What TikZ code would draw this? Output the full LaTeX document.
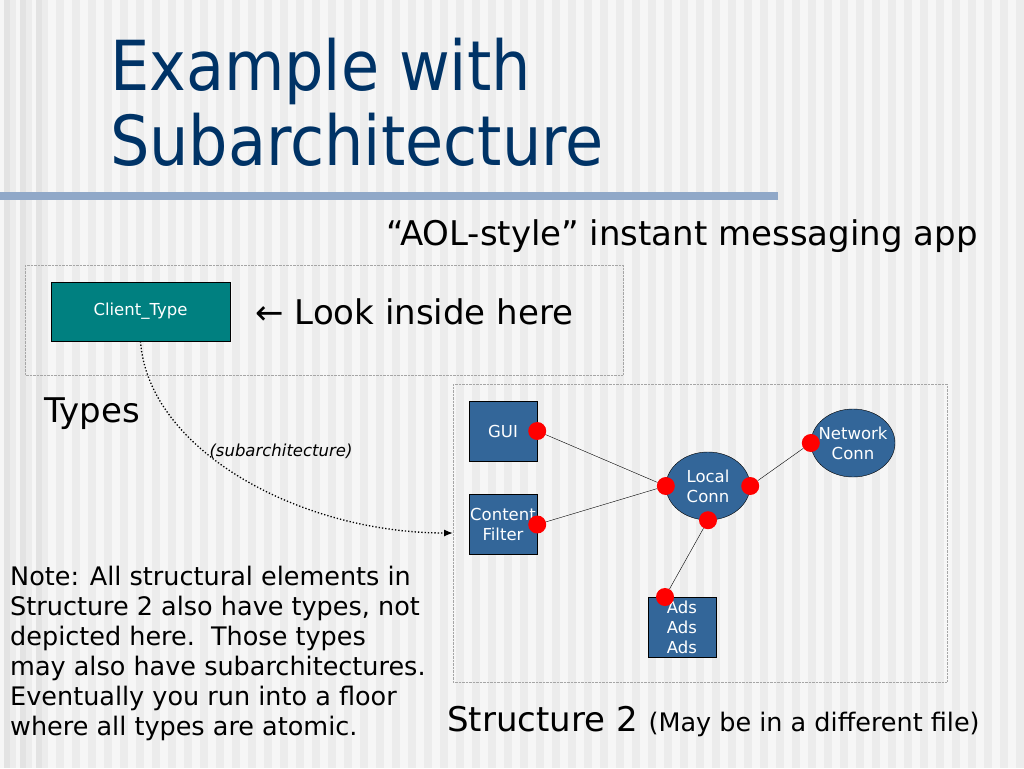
\documentclass[tikz,border=0pt]{standalone}
\usepackage{fontspec}
\setmainfont{DejaVu Sans}
\newfontfamily\titlefont{DejaVu Sans Condensed}
\usetikzlibrary{arrows.meta,positioning,shapes.geometric}

\definecolor{titleblue}{RGB}{0,51,102}
\definecolor{rulebar}{RGB}{144,168,200}
\definecolor{teal}{RGB}{0,128,128}
\definecolor{compblue}{RGB}{51,102,153}
\definecolor{bgdark}{RGB}{236,236,236}
\definecolor{bglight}{RGB}{246,246,246}

\tikzset{
  comp/.style={draw=black, fill=compblue, text=white, minimum width=68pt, minimum height=60pt,
    inner sep=0pt, align=center, font=\fontsize{16.5}{20}\selectfont},
  conn/.style={draw=black, ellipse, fill=compblue, text=white, minimum width=84pt, minimum height=68pt,
    inner xsep=-5pt, inner ysep=0pt, align=center, font=\fontsize{16.5}{20}\selectfont},
  iface/.style={circle, fill=red, minimum size=18pt, inner sep=0pt},
  frame/.style={draw=gray!70, densely dotted},
  link/.style={draw=black, thin}
}

\begin{document}
\begin{tikzpicture}[x=1pt, y=-1pt]
    % background
    \fill[bgdark] (0,0) rectangle (1024,768);
    \foreach \x in {0,16,...,1016}
        \fill[bglight] (\x,0) rectangle ++(8,768);
    \foreach \x in {4,20,36}
        \fill[gray!22] (\x,0) rectangle ++(6,768);
    \useasboundingbox (0,0) rectangle (1024,768);

    % title
    \node (title) [anchor=base west, text=titleblue, align=left,
    font=\titlefont\fontsize{69}{75}\selectfont, inner sep=0pt] at (110,165) {Example with\\Subarchitecture};
    \fill[rulebar] (0,192) rectangle (778,200);

    \node (app) [anchor=base east, font=\fontsize{34}{40}\selectfont, inner sep=0pt] at (978,245)
    {“AOL-style” instant messaging app};

    % types
    \draw[frame] (25,265) rectangle (623,375);
    \node (client) [draw=black, fill=teal, text=white, minimum width=179pt, minimum height=59pt,
    inner sep=0pt, font=\fontsize{16.5}{20}\selectfont] at (140.5,311.5) {Client\_Type};
    \node (look) [anchor=west, font=\fontsize{34}{40}\selectfont, inner sep=0pt, right=25pt of client]
    {← Look inside here};
    \node (types) [anchor=base west, font=\fontsize{34}{40}\selectfont, inner sep=0pt] at (44,422) {Types};

    % structure 2
    \draw[frame] (453,384) rectangle (947,682);
    \node (gui) [comp] at (503,431) {GUI};
    \node (filter) [comp] at (503,524.5) {Content\\Filter};
    \node (local) [conn] at (708,486) {Local\\Conn};
    \node (network) [conn] at (853,443) {Network\\Conn};
    \node (ads) [comp] at (682,627) {Ads\\Ads\\Ads};

    \node (guiport) [iface] at (gui.east) {};
    \node (filterport) [iface] at (filter.east) {};
    \node (localw) [iface] at (local.west) {};
    \node (locale) [iface] at (local.east) {};
    \node (locals) [iface] at (local.south) {};
    \node (networkw) [iface] at (network.west) {};
    \node (adsport) [iface] at (665,597) {};

    \draw[link] (guiport) -- (localw);
    \draw[link] (filterport) -- (localw);
    \draw[link] (locale) -- (networkw);
    \draw[link] (locals) -- (adsport);

    % subarchitecture link
    \coordinate (frameentry) at (453,533);
    \draw[dotted, line width=1.3pt, -{Latex[length=9pt,width=7pt]}] (client.south) .. controls (148,450) and (300,533) .. (frameentry);
    \node (sublabel) [font=\itshape\fontsize{16.5}{20}\selectfont, inner sep=0pt] at (281,451) {(subarchitecture)};

    % captions
    \node (struct) [anchor=base west, inner sep=0pt] at (447,731)
    {\fontsize{34}{40}\selectfont Structure 2 \fontsize{25.5}{30}\selectfont(May be in a different file)};
    \node (note) [anchor=north west, align=left, inner sep=0pt, font=\fontsize{25.5}{30}\selectfont] at (10,566)
    {Note: All structural elements in\\Structure 2 also have types, not\\depicted here.\ \ Those types\\may also have subarchitectures.\\Eventually you run into a floor\\where all types are atomic.};
\end{tikzpicture}
\end{document}
